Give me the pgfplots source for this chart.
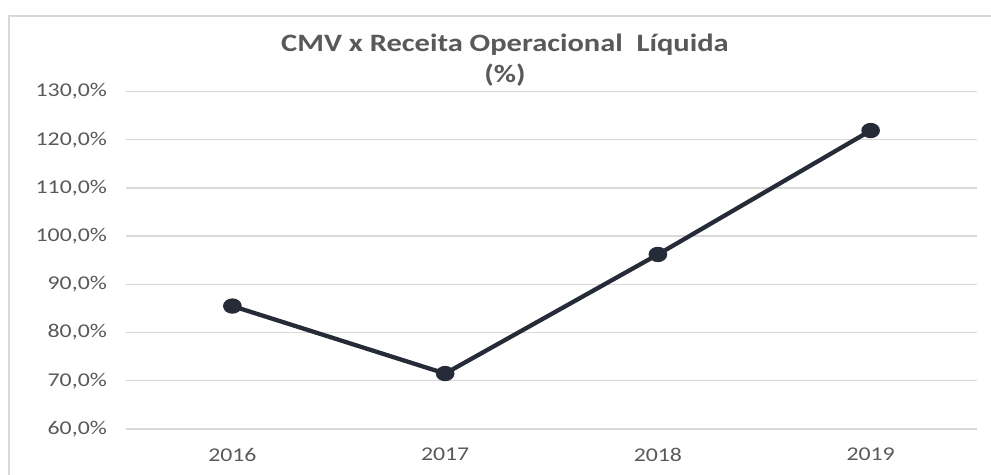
\documentclass[border=0pt]{standalone}
\usepackage{fontspec}
\setmainfont{Carlito}[FakeStretch=1.22]
\usepackage{pgfplots}
\pgfplotsset{compat=1.18}
\definecolor{txt}{HTML}{595959}
\definecolor{gridc}{HTML}{D9D9D9}
\definecolor{ln}{HTML}{252B37}
\begin{document}
\begin{tikzpicture}[x=1bp,y=1bp]
\path[use as bounding box] (0,0) rectangle (991,475);
\draw[gridc, line width=1.5bp] (9,0) -- (9,459) -- (991,459);
\begin{axis}[at={(126bp,46bp)}, anchor=south west, scale only axis,
  width=851bp, height=337.5bp,
  xmin=-0.5, xmax=3.5, ymin=60, ymax=130,
  xtick={0,1,2,3}, xticklabels={2016,2017,2018,2019},
  ytick={60,70,80,90,100,110,120,130},
  yticklabels={{60,0\%},{70,0\%},{80,0\%},{90,0\%},{100,0\%},{110,0\%},{120,0\%},{130,0\%}},
  axis line style={draw=none}, major tick length=0,
  ymajorgrids, grid style={gridc, line width=1.3bp},
  tick label style={font=\fontsize{19.5bp}{23bp}\selectfont, text=txt},
  yticklabel style={inner sep=0pt, xshift=-19bp},
  xticklabel style={inner sep=0pt, yshift=-19bp},
  clip=false]
\addplot[ln, line width=4.3bp, mark=*, mark size=5.5bp, mark options={xscale=1.3, fill=ln}]
  coordinates {(0,85.5)(1,71.5)(2,96.2)(3,121.9)};
\end{axis}
\node[anchor=base, text=txt, inner sep=0pt, font=\fontsize{25bp}{30bp}\selectfont\bfseries] at (505,423) {CMV x Receita Operacional\ \ Líquida};
\node[anchor=base, text=txt, inner sep=0pt, font=\fontsize{25bp}{30bp}\selectfont\bfseries] at (505,392) {(\%)};
\end{tikzpicture}
\end{document}
